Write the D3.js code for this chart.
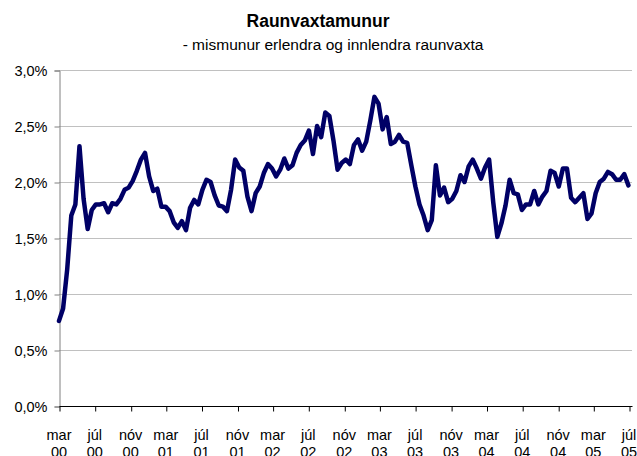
<!DOCTYPE html>
<html><head><meta charset="utf-8">
<script src="https://cdn.jsdelivr.net/npm/d3@7"></script>
<style>body{margin:0;background:#fff}svg{display:block}</style>
</head><body>
<svg id="c" width="637" height="456"></svg>
<script>
const title = "Raunvaxtamunur";
const subtitle = "- mismunur erlendra og innlendra raunvaxta";
// series: biweekly observations starting 2000-03-01 (percent)
const startDate = "2000-03-01";
const stepDays = 14;
const values = [
 0.76,0.87,1.22,1.70,1.80,2.32,1.85,1.58,1.75,1.80,
 1.80,1.81,1.73,1.81,1.80,1.85,1.93,1.95,2.01,2.10,
 2.20,2.26,2.05,1.92,1.94,1.78,1.78,1.74,1.64,1.59,
 1.65,1.57,1.77,1.84,1.80,1.93,2.02,2.00,1.88,1.79,
 1.78,1.74,1.93,2.20,2.13,2.10,1.87,1.74,1.90,1.96,
 2.08,2.16,2.12,2.05,2.11,2.21,2.12,2.15,2.26,2.33,
 2.37,2.46,2.25,2.50,2.40,2.62,2.59,2.37,2.11,2.17,
 2.20,2.16,2.33,2.38,2.28,2.36,2.55,2.76,2.70,2.47,
 2.58,2.34,2.36,2.42,2.36,2.35,2.15,1.96,1.80,1.70,
 1.57,1.66,2.15,1.88,1.95,1.82,1.85,1.92,2.06,2.00,
 2.14,2.20,2.12,2.03,2.13,2.20,1.82,1.51,1.63,1.79,
 2.02,1.90,1.89,1.75,1.80,1.80,1.92,1.80,1.87,1.92,
 2.10,2.08,1.96,2.12,2.12,1.86,1.82,1.86,1.90,1.67,
 1.72,1.90,2.00,2.03,2.09,2.07,2.02,2.02,2.07,1.97
];
const yTicks = [0, 0.5, 1.0, 1.5, 2.0, 2.5, 3.0];
const monthNames = ["jan","feb","mar","apr","maí","jún","júl","ágú","sep","okt","nóv","des"];
const axisStart = "2000-03-01", axisEnd = "2005-07-01", tickStepMonths = 4;

const parse = d3.utcParse("%Y-%m-%d");
const t0 = parse(startDate);
const data = values.map((v, i) => ({date: d3.utcDay.offset(t0, i * stepDays), value: v}));

const svg = d3.select("#c");
const FONT = "Arial, 'Liberation Sans', sans-serif";
const mLeft = 59, mRight = 629, mTop = 70, mBottom = 406, gridEnd = 632;

const x = d3.scaleUtc().domain([parse(axisStart), parse(axisEnd)]).range([mLeft, mRight]);
const y = d3.scaleLinear().domain([0, 3]).range([mBottom, mTop]);

const is = d3.formatLocale({decimal: ",", thousands: ".", grouping: [3], currency: ["", " kr"]});
const fmt = is.format(".1f");

// title
svg.append("text").attr("x", 318).attr("y", 27).attr("text-anchor", "middle")
  .attr("font-family", FONT).attr("font-weight", "bold").attr("font-size", 17.5).attr("fill", "#000").text(title);
svg.append("text").attr("x", 333).attr("y", 50).attr("text-anchor", "middle")
  .attr("font-family", FONT).attr("font-size", 15.5).attr("fill", "#000").text(subtitle);

// gridlines
svg.append("g").selectAll("line").data(yTicks.filter(d => d > 0)).join("line")
  .attr("x1", mLeft).attr("x2", gridEnd).attr("y1", d => y(d) + 0.5).attr("y2", d => y(d) + 0.5)
  .attr("stroke", "#c0c0c0").attr("stroke-width", 1);

// y axis
const yAxis = d3.axisLeft(y).tickValues(yTicks).tickSize(5).tickPadding(7).tickFormat(d => fmt(d) + "%");
const gy = svg.append("g").attr("transform", `translate(${mLeft + 0.5},0.5)`).call(yAxis);
gy.select(".domain").attr("stroke", "#808080");
gy.selectAll(".tick line").attr("stroke", "#808080");
gy.selectAll("text").attr("font-family", FONT).attr("font-size", 14.5).attr("fill", "#000");

// x axis
const tickDates = d3.utcMonth.range(parse(axisStart), d3.utcDay.offset(parse(axisEnd), 1), tickStepMonths);
const xAxis = d3.axisBottom(x).tickValues(tickDates).tickSize(5).tickSizeOuter(0).tickFormat(() => "");
const gx = svg.append("g").attr("transform", `translate(0.5,${mBottom + 0.5})`).call(xAxis);
gx.select(".domain").attr("stroke", "#000").attr("d", `M${mLeft},0H${gridEnd}`);
gx.selectAll(".tick line").attr("stroke", "#000");
const lab = svg.append("g").selectAll("text").data(tickDates).join("text")
  .attr("x", d => x(d)).attr("y", 440).attr("text-anchor", "middle")
  .attr("font-family", FONT).attr("font-size", 14.5).attr("fill", "#000");
lab.append("tspan").attr("x", d => x(d)).text(d => monthNames[d.getUTCMonth()]);
lab.append("tspan").attr("x", d => x(d)).attr("dy", 17).text(d => d3.utcFormat("%y")(d));

// line
const line = d3.line().x(d => x(d.date)).y(d => y(d.value));
svg.append("path").datum(data).attr("d", line).attr("fill", "none")
  .attr("stroke", "#000066").attr("stroke-width", 4.5)
  .attr("stroke-linejoin", "round").attr("stroke-linecap", "round");
</script>
</body></html>
